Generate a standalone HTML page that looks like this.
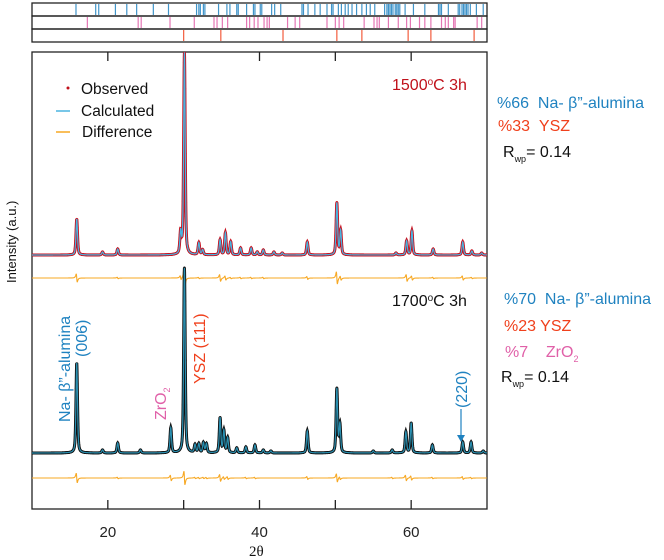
<!DOCTYPE html>
<html><head><meta charset="utf-8"><style>
html,body{margin:0;padding:0;background:#fff;}
svg{display:block;font-family:"Liberation Sans",sans-serif;}
</style></head><body>
<svg id="chart" width="664" height="560" viewBox="0 0 664 560"></svg>
<script>
// ---- data ----
const tickBeta = [15.8,18.4,18.8,21.0,22.5,23.8,26.0,28.0,31.7,32.0,32.2,32.6,32.8,34.6,35.7,36.1,37.0,37.2,38.3,39.2,39.4,40.1,40.3,41.6,42.0,42.8,45.6,45.8,46.4,47.3,48.0,48.9,49.5,49.7,50.4,50.8,51.3,51.7,52.2,52.8,53.5,54.1,54.6,55.2,56.5,56.8,57.0,57.2,57.4,57.6,57.9,58.1,58.3,58.5,59.2,60.3,61.8,63.6,63.8,64.0,64.9,66.2,66.4,66.7,66.9,67.1,67.3,67.5,67.8,68.6,69.5];
const tickZrO2 = [17.3,24.0,24.4,28.2,31.4,34.0,34.4,35.1,35.8,38.3,38.7,39.3,39.8,40.6,41.0,41.3,43.7,44.7,45.3,48.9,50.0,50.5,51.1,53.8,55.1,55.5,55.8,57.0,58.3,59.4,59.9,61.1,61.8,62.6,64.0,64.5,64.9,65.6,65.8,68.7,69.3];
const tickYSZ = [30.0,34.9,43.1,50.2,53.5,59.6,62.6,68.3];
const xTicks = [10,20,30,40,50,60,70];
const xTickLabels = ["20","40","60"];
const xLabelVals = [20,40,60];
// top pattern (1500C)
const pos1500 = [15.9,19.3,21.3,29.6,30.1,32.0,32.5,34.8,35.5,36.2,37.5,38.9,39.7,40.5,41.9,43.0,46.3,50.2,50.7,58.0,59.4,60.1,62.9,66.8,68.0,69.3];
const int1500 = [36,3,6,21,202,12,5,15,22,13,7,7,3,5,3,2,13,52,24,2,14,24,6,13,4,2];
const diff1500 = [6,0,1,3,14,1,0,5,3,1,1,1,0,1,0,0,2,9,3,0,5,3,1,3,1,0];
// bottom pattern (1700C)
const pos1700 = [15.9,19.3,21.3,24.3,28.3,30.1,31.5,32.0,32.6,33.0,34.8,35.3,35.8,37.0,38.2,39.4,40.5,41.5,46.3,50.2,50.6,55.0,57.5,59.3,60.0,62.8,66.8,67.9,69.5];
const int1700 = [90,3,10,3,25,185,8,9,10,9,35,22,15,5,6,8,3,2,22,64,28,2,3,21,30,8,11,11,2];
const diff1700 = [7,0,1,0,4,10,1,1,1,1,5,2,2,0,1,1,0,0,2,6,2,0,1,4,3,1,2,1,0];

// ---- scales ----
const X0=32,X1=487,T0=10,T1=70;
const xs = t => X0+(t-T0)*(X1-X0)/(T1-T0);
const NS="http://www.w3.org/2000/svg";
const svg=document.getElementById('chart');
function mk(tag,attrs,parent){const e=document.createElementNS(NS,tag);for(const k in attrs)e.setAttribute(k,attrs[k]);(parent||svg).appendChild(e);return e;}
function prof(d){return 0.5/(1+d*d)+0.5*Math.exp(-0.693*d*d);}
function lor(t,pos,ints,w){let s=0;for(let i=0;i<pos.length;i++){s+=ints[i]*prof((t-pos[i])/w);}return s;}
function dlor(t,pos,amp,w){let s=0;for(let i=0;i<pos.length;i++){const d=(t-pos[i])/w;s+=-amp[i]*2*d/((1+d*d)*(1+d*d));}return s;}

// ---- tick mark panels ----
const panels=[{y:3,arr:tickBeta,c:"#1f82c0",n:"beta-alumina-reflections"},{y:16,arr:tickZrO2,c:"#e060a8",n:"zro2-reflections"},{y:29,arr:tickYSZ,c:"#f0401c",n:"ysz-reflections"}];
panels.forEach(p=>{
  const g=mk('g',{});
  
  
  p.arr.forEach(t=>{
    const l=mk('line',{x1:xs(t),x2:xs(t),y1:p.y+1,y2:p.y+12,stroke:p.c,'stroke-width':1.2,opacity:0.85},g);
    
    
  });
  mk('rect',{x:X0,y:p.y,width:X1-X0,height:13,fill:'none',stroke:'#222','stroke-width':1.3},g);
});

// ---- main frame ----
const YT=52,YB=509;
const frame=mk('rect',{x:X0,y:YT,width:X1-X0,height:YB-YT,fill:'none',stroke:'#222','stroke-width':1.3});


xTicks.forEach(t=>{
  if(t===10||t===70)return;
  mk('line',{x1:xs(t),x2:xs(t),y1:YB,y2:YB-9,stroke:'#222','stroke-width':1.3});
  mk('line',{x1:xs(t),x2:xs(t),y1:YT,y2:YT+9,stroke:'#222','stroke-width':1.3});
});
xLabelVals.forEach((t,i)=>{
  const tx=mk('text',{x:xs(t),y:537,'font-size':15,'text-anchor':'middle',fill:'#222'});
  tx.textContent=xTickLabels[i];
  
  
});

// ---- patterns ----
const clip=mk('clipPath',{id:'pc'});mk('rect',{x:X0,y:YT,width:X1-X0,height:YB-YT},clip);
function pattern(pos,ints,diff,base,dbase,obsCol,calcCol,name){
  const g=mk('g',{'clip-path':'url(#pc)'});
  
  
  let calc='',dd='';const w=0.12;
  for(let t=T0;t<=T1;t+=0.02){
    const v=lor(t,pos,ints,w);const x=xs(t).toFixed(2);
    calc+=(calc?'L':'M')+x+','+(base-v).toFixed(2);
    dd+=(dd?'L':'M')+x+','+(dbase-dlor(t,pos,diff,w)).toFixed(2);
  }
  const o=mk('path',{d:calc,fill:'none',stroke:obsCol,'stroke-width':3},g);
  
  
  const dots=mk('g',{fill:obsCol},g);
  
  
  for(let t=T0;t<=T1;t+=0.03){
    const v=lor(t,pos,ints,w);
    mk('circle',{cx:xs(t).toFixed(2),cy:(base-v).toFixed(2),r:1.3},dots);
  }
  const c=mk('path',{d:calc,fill:'none',stroke:calcCol,'stroke-width':1.2},g);
  
  
  const d=mk('path',{d:dd,fill:'none',stroke:'#f7a823','stroke-width':1.1},g);
  
  
}
pattern(pos1500,int1500,diff1500,255,278,'#c8101e','#4ab4e0','pattern-1500c');
pattern(pos1700,int1700,diff1700,453,478,'#111','#2a8fb0','pattern-1700c');

// ---- text ----
function txt(x,y,s,col,size,name,extra){const t=mk('text',Object.assign({x:x,y:y,'font-size':size,fill:col},extra||{}));t.innerHTML=s;return t;}
const lg=mk('g',{});
mk('circle',{cx:68,cy:88,r:1.5,fill:'#c0101a'},lg);
mk('line',{x1:56,x2:70,y1:111,y2:111,stroke:'#4ab4e0','stroke-width':1.5},lg);
mk('line',{x1:56,x2:70,y1:132,y2:132,stroke:'#f7a823','stroke-width':1.5},lg);
txt(81,94,'Observed','#111',15.5,'legend-observed');
txt(81,116,'Calculated','#111',15.5,'legend-calculated');
txt(82,137,'Difference','#111',15.5,'legend-difference');
txt(392,90,'1500<tspan font-size="10" dy="-5">o</tspan><tspan dy="5">C 3h</tspan>','#c0101a',16,'label-1500c');
txt(392,306,'1700<tspan font-size="10" dy="-5">o</tspan><tspan dy="5">C 3h</tspan>','#111',16,'label-1700c');
txt(497,108,'%66&#160;&#160;Na- β”-alumina','#1f82c0',16,'phase-beta-1500');
txt(498,131,'%33&#160;&#160;YSZ','#f0401c',16,'phase-ysz-1500');
txt(503,157,'R<tspan font-size="9" dy="5">wp</tspan><tspan dy="-5">= 0.14</tspan>','#111',16,'rwp-1500');
txt(504,304,'%70&#160;&#160;Na- β”-alumina','#1f82c0',16,'phase-beta-1700');
txt(504,331,'%23 YSZ','#f0401c',16,'phase-ysz-1700');
txt(505,357,'%7&#160;&#160;&#160;&#160;ZrO<tspan font-size="9" dy="5">2</tspan>','#e060a8',16,'phase-zro2-1700');
txt(501,382,'R<tspan font-size="9" dy="5">wp</tspan><tspan dy="-5">= 0.14</tspan>','#111',16,'rwp-1700');
txt(0,0,'Na- β”-alumina','#1f82c0',16,'label-beta-006-name',{transform:'translate(70,422) rotate(-90)'});
txt(0,0,'(006)','#1f82c0',16,'label-beta-006-hkl',{transform:'translate(87,357) rotate(-90)'});
txt(0,0,'ZrO<tspan font-size="9" dy="4">2</tspan>','#e060a8',16,'label-zro2',{transform:'translate(166,420) rotate(-90)'});
txt(0,0,'YSZ (111)','#f0401c',16,'label-ysz-111',{transform:'translate(205,384) rotate(-90)'});
txt(0,0,'(220)','#1f82c0',16,'label-220',{transform:'translate(467,408) rotate(-90)'});
const ar=mk('line',{x1:461,x2:461,y1:409,y2:437,stroke:'#1f82c0','stroke-width':1.2});

mk('path',{d:'M457,435 L461,442 L465,435 Z',fill:'#1f82c0'});
txt(0,0,'Intensity (a.u.)','#111',13,'y-axis-title',{transform:'translate(16,283) rotate(-90)'});
txt(249,556,'2θ','#111',15,'x-axis-title',{'font-family':'Liberation Serif, serif'});
</script>
</body></html>
